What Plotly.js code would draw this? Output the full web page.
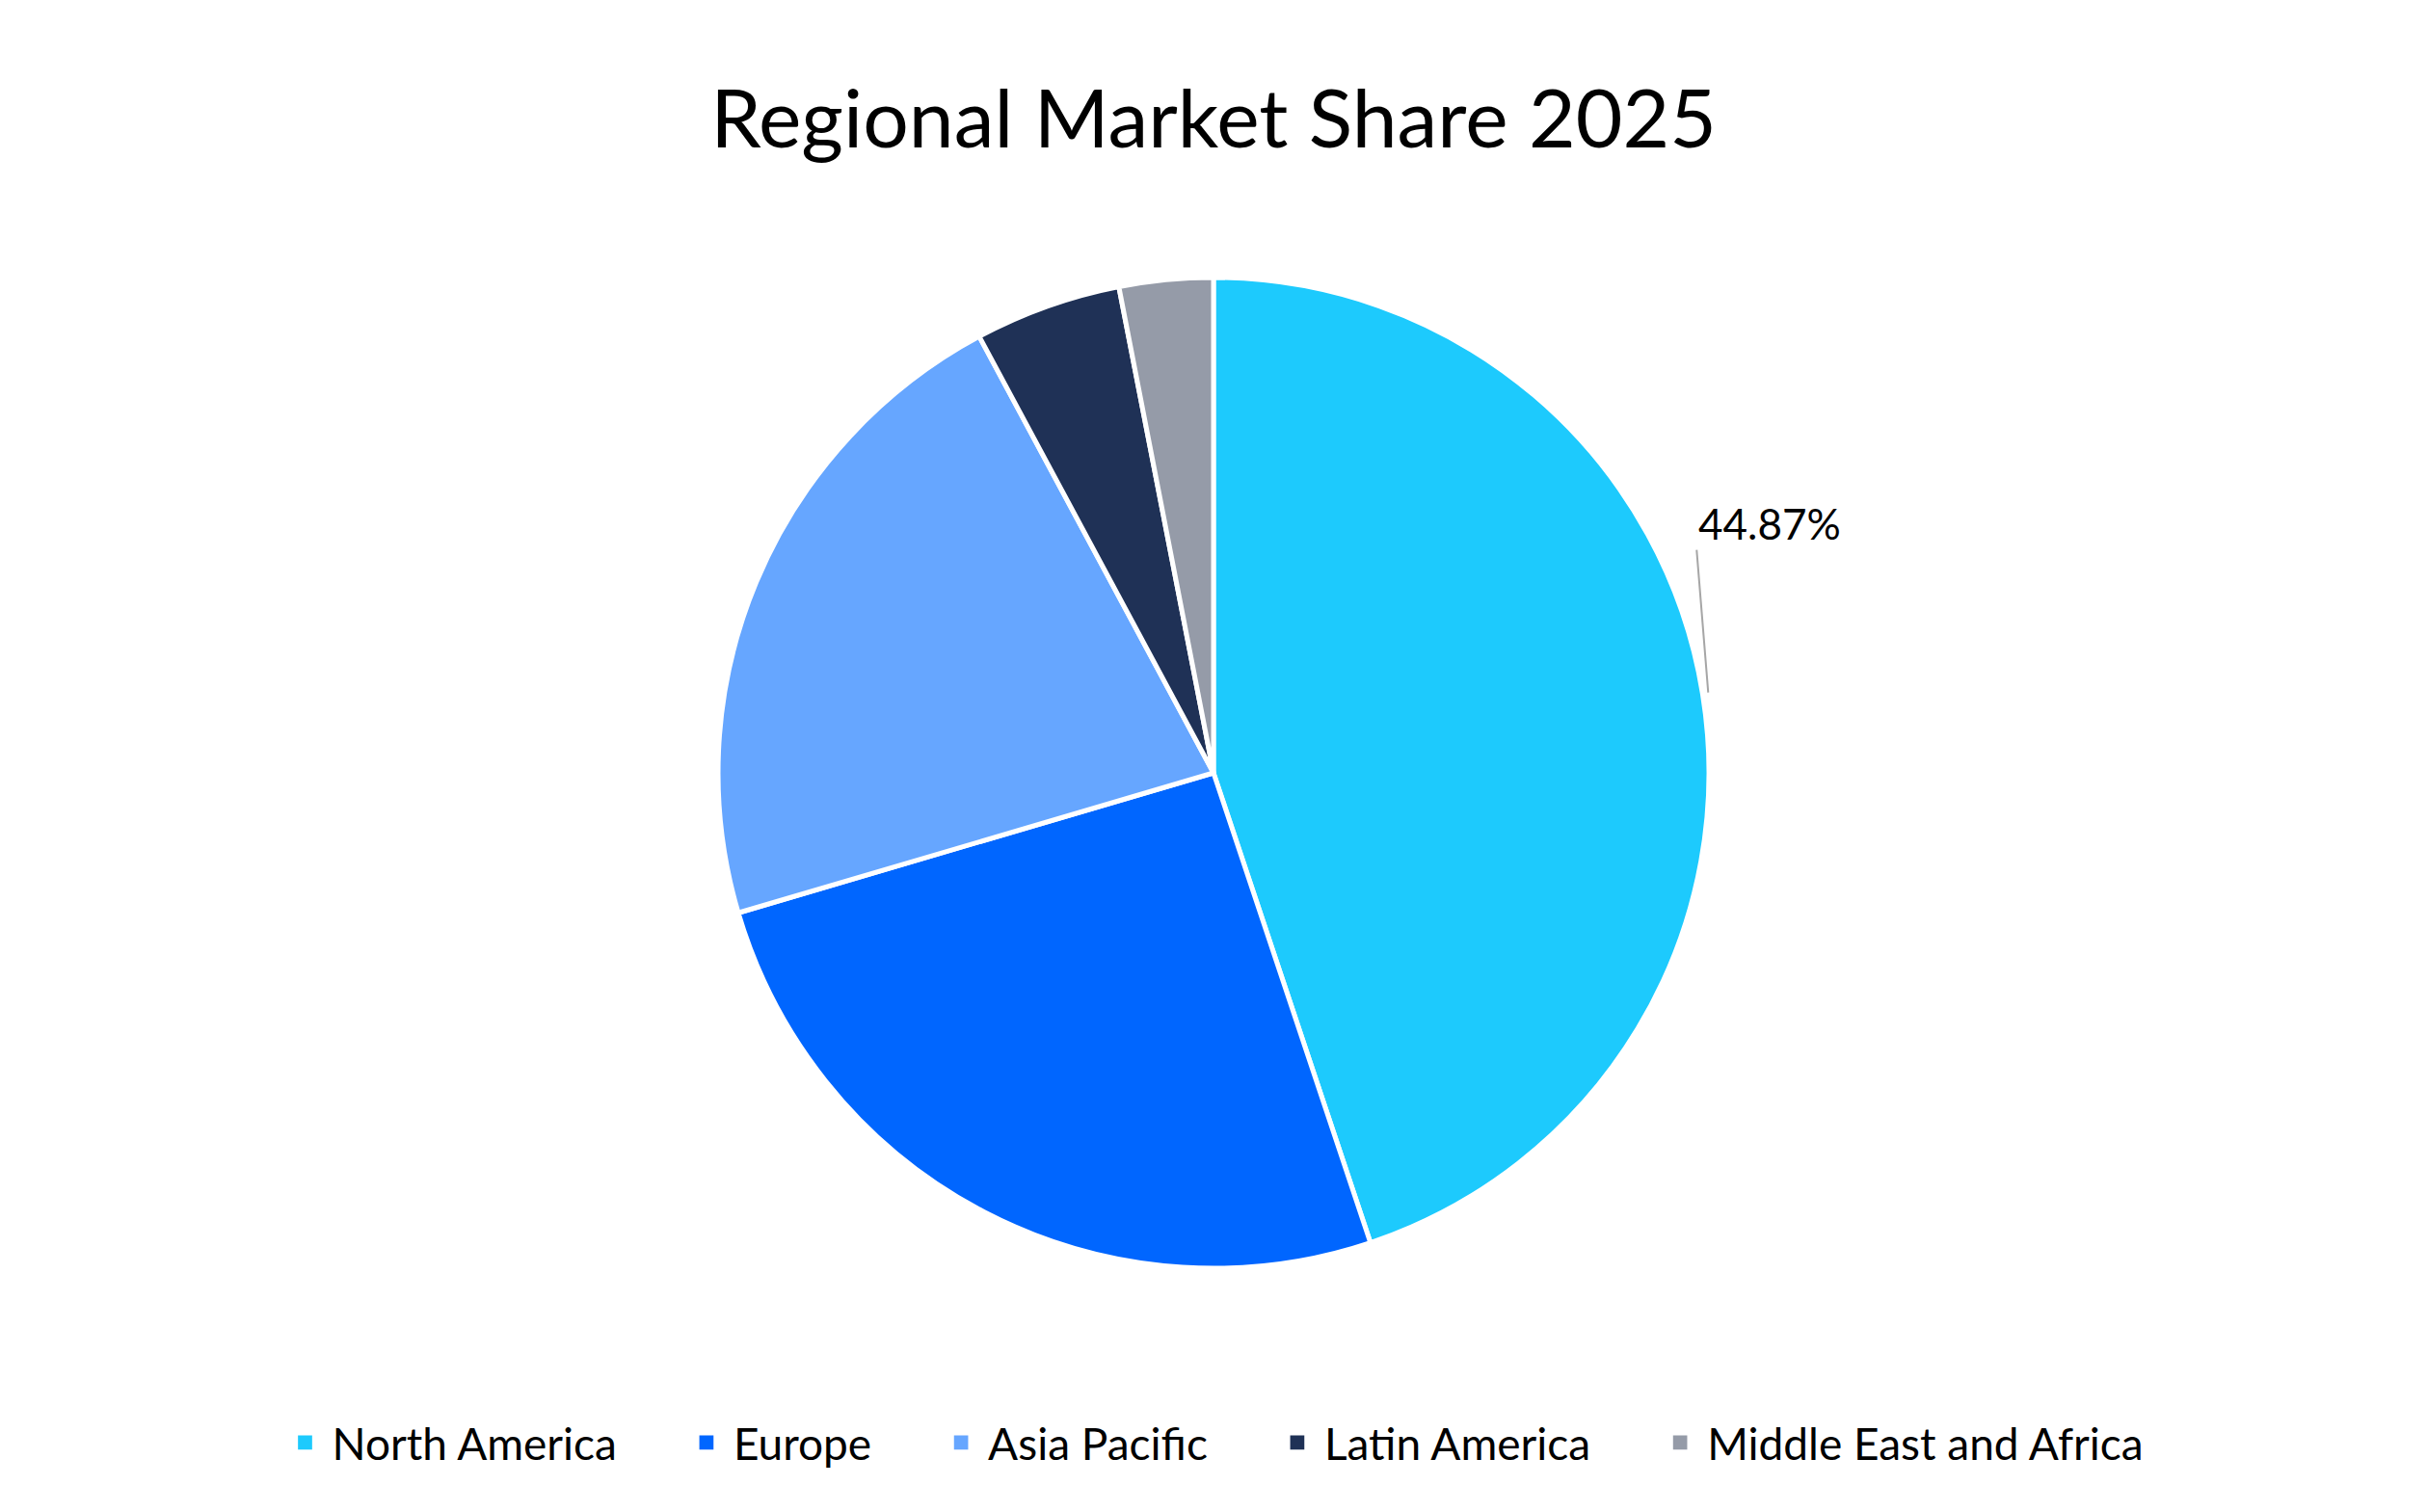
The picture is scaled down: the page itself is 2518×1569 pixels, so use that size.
<!DOCTYPE html>
<html>
<head>
<meta charset="utf-8">
<script src="https://cdn.plot.ly/plotly-3.0.1.min.js"></script>
<style>
  html, body { margin: 0; padding: 0; background: #ffffff; }
  #myDiv { width: 2518px; height: 1569px; }
</style>
</head>
<body>
<div id="myDiv"></div>
<script>
// Chart data
const regions = ['North America', 'Europe', 'Asia Pacific', 'Latin America', 'Middle East and Africa'];
const shares = [44.87, 25.57, 21.72, 4.78, 3.06];
const sliceColors = ['#1DCAFD', '#0066FF', '#66A6FF', '#1F3156', '#959BA8'];

const W = 2518;
const H = 1569;
const margin = {l: 0, r: 0, t: 288, b: 253, pad: 0};

// Legend tweaks: bigger square swatches, wider spacing between entries
const swatchScale = 2.1;
const textNudge = 8;
const extraEntryGap = 76;

function runPlot() {
    'use strict';

    const pieTrace = {
        type: 'pie',
        labels: regions,
        values: shares,
        sort: false,
        direction: 'clockwise',
        rotation: 0,
        textinfo: 'none',
        hoverinfo: 'label+percent',
        marker: {
            colors: sliceColors,
            line: {color: '#ffffff', width: 5}
        }
    };

    // Where the first slice's middle meets the rim, in paper units
    const plotW = W - margin.l - margin.r;
    const plotH = H - margin.t - margin.b;
    const radius = Math.min(plotW, plotH) / 2;
    const cx = margin.l + plotW / 2;
    const cy = margin.t + plotH / 2;
    const total = shares.reduce((a, b) => a + b, 0);
    const midAngle = (shares[0] / total) * Math.PI;
    const tipX = cx + (radius + 6) * Math.sin(midAngle);
    const tipY = cy - (radius + 6) * Math.cos(midAngle);

    const layout = {
        width: W,
        height: H,
        margin: margin,
        paper_bgcolor: '#ffffff',
        font: {family: 'Lato, "Open Sans", sans-serif', color: '#000000'},
        title: {
            text: 'Regional Market Share 2025',
            font: {size: 84, color: '#000000'},
            x: 0.5,
            xanchor: 'center',
            y: 1 - 124 / H,
            yref: 'container',
            yanchor: 'middle'
        },
        showlegend: true,
        legend: {
            orientation: 'h',
            x: 0.5,
            xanchor: 'center',
            y: -0.176,
            yanchor: 'middle',
            font: {size: 46, color: '#000000'},
            traceorder: 'normal'
        },
        annotations: [{
            xref: 'paper',
            yref: 'paper',
            x: (tipX - margin.l) / plotW,
            y: (H - margin.b - tipY) / plotH,
            text: shares[0].toFixed(2) + '%',
            font: {size: 44, color: '#000000'},
            showarrow: true,
            arrowhead: 0,
            arrowwidth: 2,
            arrowcolor: '#A6A6A6',
            standoff: 0,
            ax: -12,
            ay: -148,
            xanchor: 'left',
            yanchor: 'bottom'
        }]
    };

    Plotly.newPlot('myDiv', [pieTrace], layout, {displayModeBar: false, staticPlot: true})
        .then(gd => {
            // let the legend row grow past its own box
            gd.querySelectorAll('.legend, .legend [clip-path]').forEach(el => {
                el.removeAttribute('clip-path');
            });

            // enlarge the legend squares
            gd.querySelectorAll('.legend .legendpoints path').forEach(p => {
                const t = p.getAttribute('transform') || '';
                p.setAttribute('transform', t + ' scale(' + swatchScale + ')');
            });

            // a little more room between square and label
            gd.querySelectorAll('.legend .legendtext').forEach(el => {
                const t = el.getAttribute('transform') || '';
                el.setAttribute('transform', t + ' translate(' + textNudge + ',0)');
            });

            // spread the entries apart and keep the row centred
            const items = gd.querySelectorAll('.legend .traces');
            const shift = -(items.length - 1) * extraEntryGap / 2;
            items.forEach((g, i) => {
                const t = g.getAttribute('transform') || '';
                g.setAttribute('transform', t + ' translate(' + (shift + i * extraEntryGap) + ',0)');
            });
        });
}

runPlot();
</script>
</body>
</html>
